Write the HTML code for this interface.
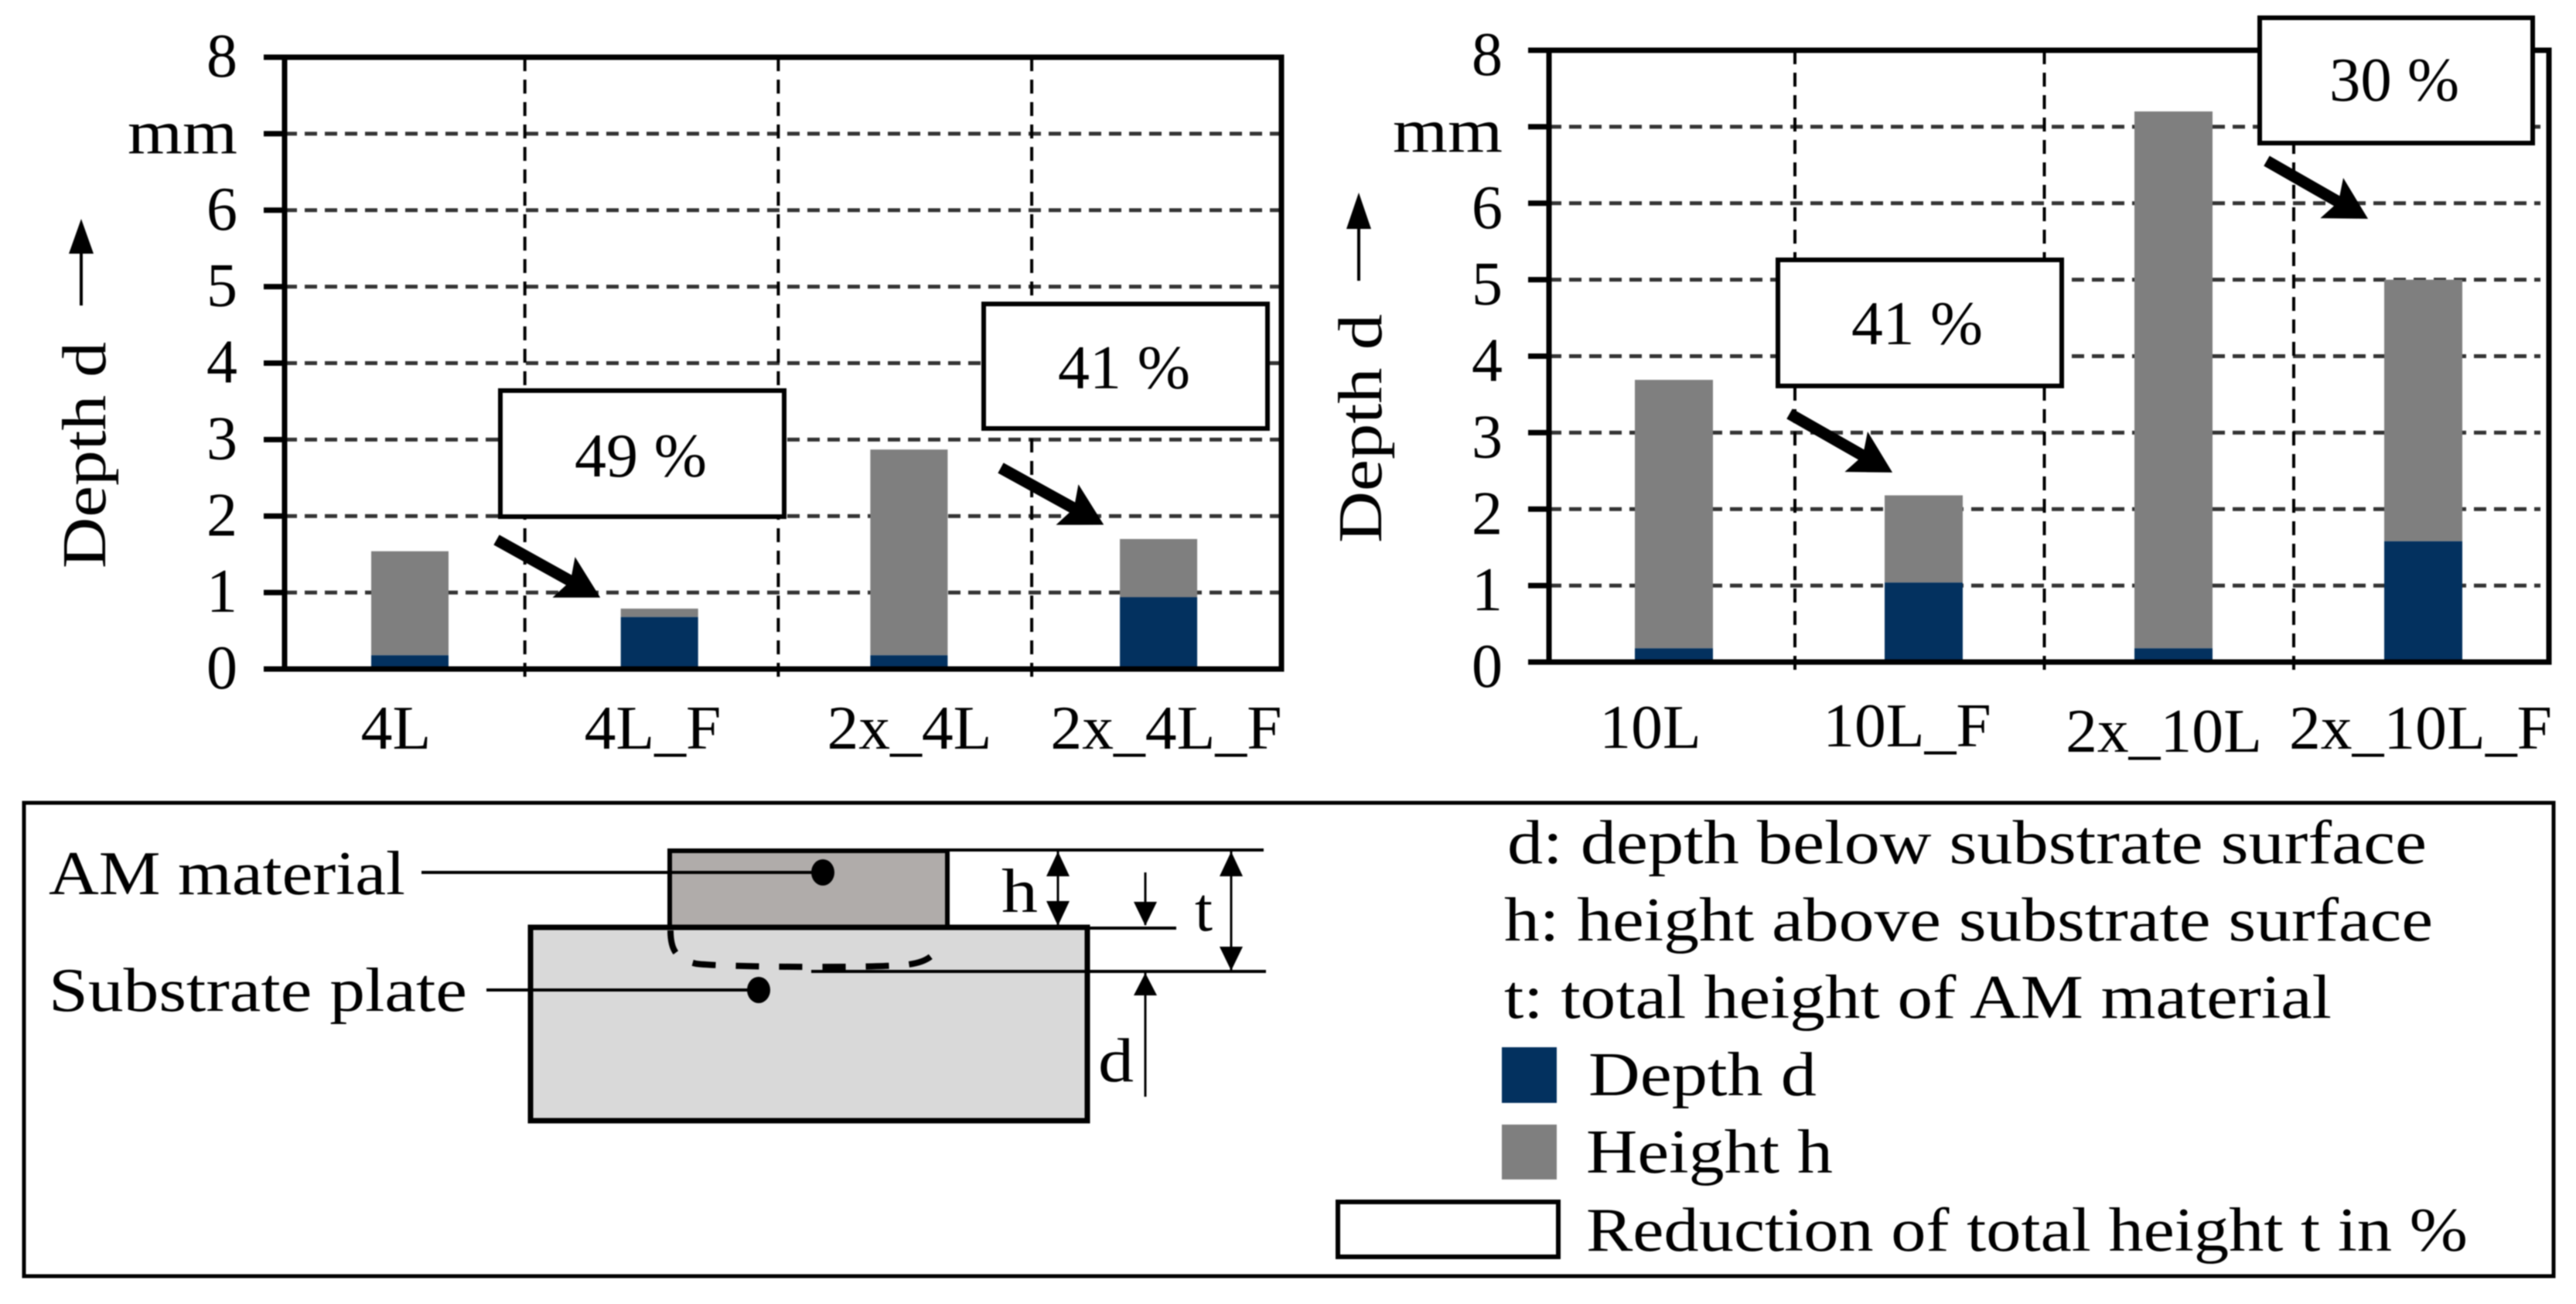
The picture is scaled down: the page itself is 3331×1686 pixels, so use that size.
<!DOCTYPE html>
<html lang="en">
<head>
<meta charset="utf-8">
<title>Depth and height of AM material</title>
<style>
html,body{margin:0;padding:0;background:#fff;}
svg{display:block;filter:blur(0.7px);}
text{font-family:"Liberation Serif","DejaVu Serif",serif;font-size:80px;fill:#000;}
</style>
</head>
<body>
<svg id="figure" xmlns="http://www.w3.org/2000/svg" width="3331" height="1686" viewBox="0 0 3331 1686">
  <defs>
    <marker id="callout-head" markerUnits="userSpaceOnUse" markerWidth="64" markerHeight="60" viewBox="0 0 64 60" refX="24" refY="30" orient="auto">
      <polygon points="0,0 54,30 0,60 10,30" fill="#000"/>
    </marker>
  </defs>
  <rect width="3331" height="1686" fill="#fff"/>

  <g id="chart-left"></g>
  <g id="chart-right"></g>

  <!-- y axis titles -->
  <text transform="translate(136,735) rotate(-90)" textLength="293" lengthAdjust="spacingAndGlyphs">Depth d</text>
  <polygon points="103,395 107,395 107,328 121,328 105,283 89,328 103,328" fill="#000"/>
  <text transform="translate(1786,702) rotate(-90)" textLength="296" lengthAdjust="spacingAndGlyphs">Depth d</text>
  <polygon points="1755,363 1759,363 1759,296 1773,296 1757,249 1741,296 1755,296" fill="#000"/>

  <!-- reduction callouts -->
  <g>
    <rect x="647" y="505" width="367" height="163" fill="#fff" stroke="#000" stroke-width="6"/>
    <text x="743" y="616" textLength="171" lengthAdjust="spacingAndGlyphs">49 %</text>
    <line x1="642" y1="698" x2="750" y2="758" stroke="#000" stroke-width="15" marker-end="url(#callout-head)"/>
  </g>
  <g>
    <rect x="1272" y="393" width="367" height="161" fill="#fff" stroke="#000" stroke-width="6"/>
    <text x="1368" y="502" textLength="171" lengthAdjust="spacingAndGlyphs">41 %</text>
    <line x1="1294" y1="605" x2="1401" y2="664" stroke="#000" stroke-width="15" marker-end="url(#callout-head)"/>
  </g>
  <g>
    <rect x="2299" y="336" width="367" height="163" fill="#fff" stroke="#000" stroke-width="6"/>
    <text x="2394" y="445" textLength="170" lengthAdjust="spacingAndGlyphs">41 %</text>
    <line x1="2314" y1="535" x2="2421" y2="596" stroke="#000" stroke-width="15" marker-end="url(#callout-head)"/>
  </g>
  <g>
    <rect x="2922" y="23" width="353" height="162" fill="#fff" stroke="#000" stroke-width="6"/>
    <text x="3012" y="130" textLength="168" lengthAdjust="spacingAndGlyphs">30 %</text>
    <line x1="2931" y1="208" x2="3036" y2="268" stroke="#000" stroke-width="15" marker-end="url(#callout-head)"/>
  </g>

  <!-- legend box -->
  <rect x="31" y="1038" width="3271" height="612" fill="none" stroke="#000" stroke-width="5"/>

  <!-- schematic -->
  <g>
    <rect x="866" y="1100" width="359" height="100" fill="#b0acaa" stroke="#000" stroke-width="6"/>
    <rect x="686" y="1199" width="720" height="250" fill="#d9d9d9" stroke="#000" stroke-width="7"/>
    <path d="M867 1203 C867 1228 874 1240 900 1246 C930 1250 1100 1252 1165 1248 C1192 1246 1205 1240 1214 1224" fill="none" stroke="#000" stroke-width="8" stroke-dasharray="30 26"/>
    <line x1="1225" y1="1099" x2="1634" y2="1099" stroke="#000" stroke-width="4"/>
    <line x1="1406" y1="1200" x2="1521" y2="1200" stroke="#000" stroke-width="4"/>
    <line x1="1049" y1="1256" x2="1637" y2="1256" stroke="#000" stroke-width="4"/>
    <g>
      <line x1="1368" y1="1101" x2="1368" y2="1196" stroke="#000" stroke-width="3"/>
      <polygon points="1368,1101 1353,1133 1383,1133" fill="#000"/>
      <polygon points="1368,1197 1353,1165 1383,1165" fill="#000"/>
    </g>
    <g>
      <line x1="1592" y1="1101" x2="1592" y2="1255" stroke="#000" stroke-width="3"/>
      <polygon points="1592,1101 1577,1133 1607,1133" fill="#000"/>
      <polygon points="1592,1255 1577,1224 1607,1224" fill="#000"/>
    </g>
    <g>
      <line x1="1481" y1="1128" x2="1481" y2="1196" stroke="#000" stroke-width="3"/>
      <polygon points="1481,1197 1466,1166 1496,1166" fill="#000"/>
      <line x1="1481" y1="1258" x2="1481" y2="1418" stroke="#000" stroke-width="3"/>
      <polygon points="1481,1258 1466,1287 1496,1287" fill="#000"/>
    </g>
    <text x="1295" y="1179" textLength="47" lengthAdjust="spacingAndGlyphs">h</text>
    <text x="1545" y="1203" textLength="23" lengthAdjust="spacingAndGlyphs">t</text>
    <text x="1420" y="1398" textLength="46" lengthAdjust="spacingAndGlyphs">d</text>
    <text x="63" y="1156" textLength="461" lengthAdjust="spacingAndGlyphs">AM material</text>
    <line x1="545" y1="1128" x2="1052" y2="1128" stroke="#000" stroke-width="4"/>
    <ellipse cx="1064" cy="1128" rx="15" ry="17" fill="#000"/>
    <text x="63" y="1307" textLength="541" lengthAdjust="spacingAndGlyphs">Substrate plate</text>
    <line x1="629" y1="1280" x2="972" y2="1280" stroke="#000" stroke-width="4"/>
    <ellipse cx="981" cy="1280" rx="15" ry="17" fill="#000"/>
  </g>

  <!-- legend text -->
  <g>
    <text x="1949" y="1116" textLength="1189" lengthAdjust="spacingAndGlyphs">d: depth below substrate surface</text>
    <text x="1945" y="1216" textLength="1201" lengthAdjust="spacingAndGlyphs">h: height above substrate surface</text>
    <text x="1945" y="1316" textLength="1070" lengthAdjust="spacingAndGlyphs">t: total height of AM material</text>
    <rect x="1942" y="1354" width="71" height="72" fill="#03315f"/>
    <text x="2054" y="1416" textLength="295" lengthAdjust="spacingAndGlyphs">Depth d</text>
    <rect x="1942" y="1454" width="71" height="71" fill="#7f7f7f"/>
    <text x="2051" y="1516" textLength="319" lengthAdjust="spacingAndGlyphs">Height h</text>
    <rect x="1730" y="1554" width="285" height="71" fill="#fff" stroke="#000" stroke-width="6"/>
    <text x="2051" y="1617" textLength="1140" lengthAdjust="spacingAndGlyphs">Reduction of total height t in %</text>
  </g>
</svg>

<script>
// Chart data (mm)
const yTickLabels = ['0', '1', '2', '3', '4', '5', '6', 'mm', '8'];
const yTickValues = [0, 1, 2, 3, 4, 5, 6, 7, 8];
const categoriesLeft = ['4L', '4L_F', '2x_4L', '2x_4L_F'];
const depthLeft = [0.18, 0.68, 0.18, 0.94];
const heightLeft = [1.36, 0.11, 2.69, 0.76];
const categoriesRight = ['10L', '10L_F', '2x_10L', '2x_10L_F'];
const depthRight = [0.18, 1.04, 0.18, 1.58];
const heightRight = [3.51, 1.14, 7.02, 3.42];

const SVG_NS = 'http://www.w3.org/2000/svg';

function svgEl(parent, tag, attrs) {
  const el = document.createElementNS(SVG_NS, tag);
  for (const key in attrs) el.setAttribute(key, attrs[key]);
  parent.appendChild(el);
  return el;
}

function drawChart(rootId, cfg, categories, depth, height) {
  const root = document.getElementById(rootId);
  const y = function (v) { return cfg.bottom - (cfg.bottom - cfg.top) * v / 8; };
  const barX = function (i) { return cfg.barStart + cfg.barStep * i; };
  const gridX = function (k) { return cfg.gridStart + cfg.gridStep * k; };
  const labelX = function (i) { return cfg.labelStart + cfg.labelStep * i; };

  // horizontal gridlines
  yTickValues.forEach(function (v) {
    if (v === 0 || v === 8) return;
    const g = svgEl(root, 'line', { x1: cfg.left, x2: cfg.gridEnd, y1: y(v), y2: y(v), stroke: '#333', 'stroke-width': 5, 'stroke-dasharray': '16 10' });
    
    
  });

  // vertical gridlines
  for (let k = 1; k < categories.length; k++) {
    const g = svgEl(root, 'line', { x1: gridX(k), x2: gridX(k), y1: cfg.top, y2: cfg.bottom + 12, stroke: '#000', 'stroke-width': 4, 'stroke-dasharray': '18 11' });
    
    
  }

  // stacked bars
  categories.forEach(function (cat, i) {
    const x = barX(i) - cfg.barWidth / 2;
    const depthTop = y(depth[i]);
    const totalTop = y(depth[i] + height[i]);
    const hBar = svgEl(root, 'rect', { x: x, y: totalTop, width: cfg.barWidth, height: depthTop - totalTop, fill: '#7f7f7f' });
    
    
    const dBar = svgEl(root, 'rect', { x: x, y: depthTop, width: cfg.barWidth, height: y(0) - depthTop, fill: '#03315f' });
    
    

    const t = svgEl(root, 'text', { transform: 'translate(' + labelX(i) + ',' + cfg.labelY[i] + ') scale(1.02,1)', 'text-anchor': 'middle' });
    t.textContent = cat;
    
    
  });

  // frame
  const frame = svgEl(root, 'rect', { x: cfg.left, y: cfg.top, width: cfg.right - cfg.left, height: cfg.bottom - cfg.top, fill: 'none', stroke: '#000', 'stroke-width': 7 });
  
  

  // y ticks and labels
  yTickValues.forEach(function (v, i) {
    const tick = svgEl(root, 'line', { x1: cfg.left - 27, x2: cfg.left, y1: y(v), y2: y(v), stroke: '#000', 'stroke-width': 7 });
    
    
    const label = yTickLabels[i];
    const attrs = { x: cfg.tickRight, y: y(v) + cfg.tickDy, 'text-anchor': 'end' };
    if (label === 'mm') { attrs.textLength = 142; attrs.lengthAdjust = 'spacingAndGlyphs'; }
    const t = svgEl(root, 'text', attrs);
    t.textContent = label;
    
    
  });
}

drawChart('chart-left', {
  left: 368, right: 1657, top: 74, bottom: 865, gridEnd: 1657,
  barStart: 530, barStep: 322.7, barWidth: 100,
  gridStart: 351, gridStep: 327.7,
  labelStart: 512, labelStep: 332, labelY: [968, 968, 968, 968],
  tickRight: 307, tickDy: 25
}, categoriesLeft, depthLeft, heightLeft);

drawChart('chart-right', {
  left: 2003, right: 3296, top: 65, bottom: 856, gridEnd: 3285,
  barStart: 2164.5, barStep: 323, barWidth: 101,
  gridStart: 1998.5, gridStep: 322.5,
  labelStart: 2134, labelStep: 332, labelY: [967, 965, 972, 968],
  tickRight: 1943, tickDy: 32
}, categoriesRight, depthRight, heightRight);
</script>
</body>
</html>
